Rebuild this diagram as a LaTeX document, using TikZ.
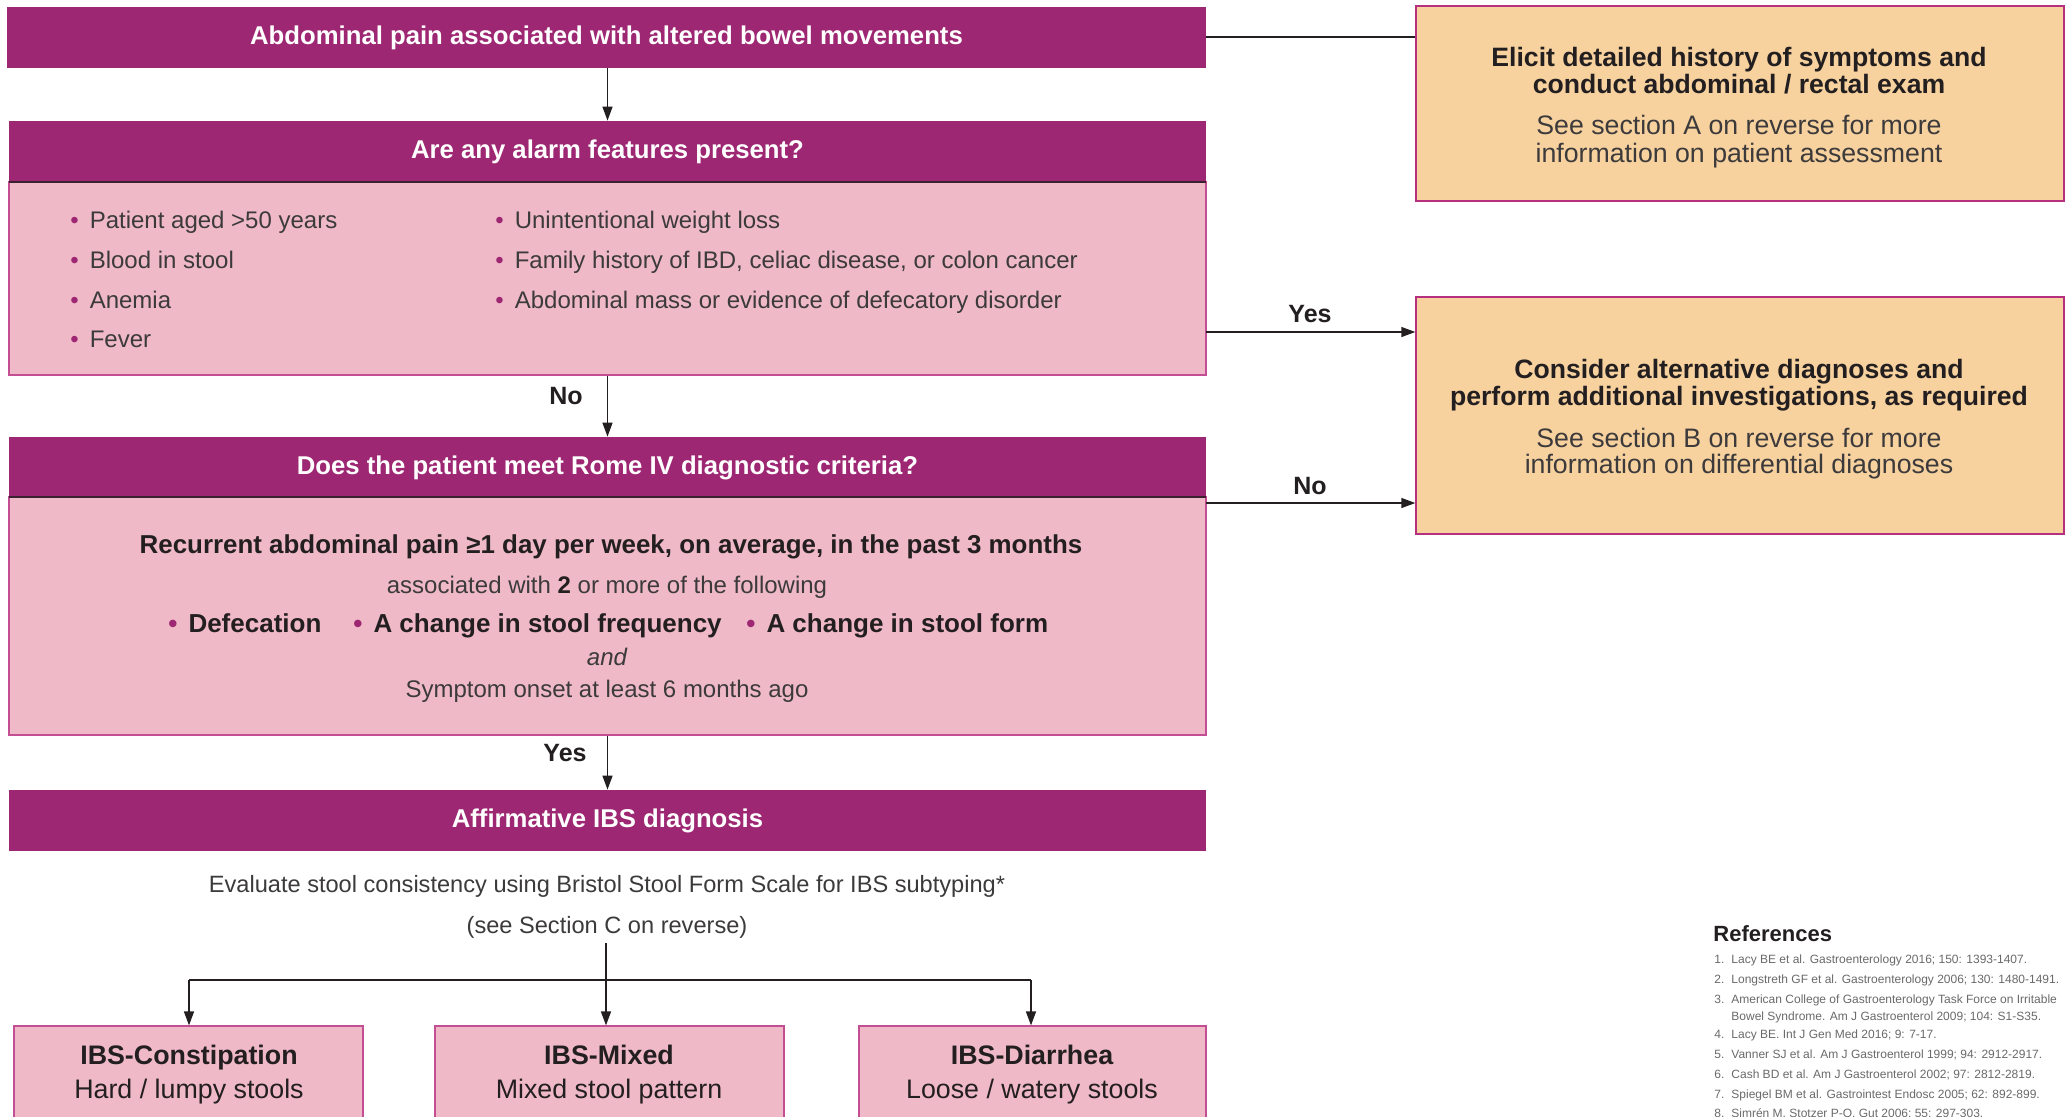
\documentclass[tikz,border=0pt]{standalone}
\usepackage{fontspec}
\setmainfont{Liberation Sans}
\usetikzlibrary{arrows.meta}
\definecolor{hdr}{HTML}{9D2772}
\definecolor{pinkbg}{HTML}{EFB9C8}
\definecolor{pinkbd}{HTML}{C44E93}
\definecolor{orangebg}{HTML}{F7D29F}
\definecolor{orangebd}{HTML}{B5317F}
\definecolor{ink}{HTML}{231F20}
\definecolor{lite}{HTML}{3C3A3B}
\definecolor{refgray}{HTML}{6A6A6A}
\newcommand{\pbul}{\textcolor{hdr}{\textbullet}\hspace{5.5pt}}
\tikzset{
  tb/.style={text height=0.72em, text depth=0pt},
  hdrbox/.style={fill=hdr, draw=none, text=white, font=\fontsize{12.85pt}{15pt}\selectfont\bfseries, inner sep=0pt, tb},
  bodybox/.style={fill=pinkbg, draw=pinkbd, line width=0.6pt, inner sep=0pt},
  orbox/.style={fill=orangebg, draw=orangebd, line width=0.7pt, inner sep=0pt},
  arr/.style={draw=ink, line width=0.7pt, -{Triangle[length=7pt,width=5pt]}},
  plain/.style={draw=ink, line width=0.9pt},
  lbl/.style={font=\fontsize{12.5pt}{15pt}\selectfont\bfseries, text=ink, inner sep=0pt, tb},
  item/.style={font=\fontsize{12pt}{14pt}\selectfont, text=lite, anchor=west, inner sep=0pt, tb},
  ctext/.style={font=\fontsize{12pt}{14pt}\selectfont, text=lite, inner sep=0pt, tb},
  btext/.style={font=\fontsize{12.8pt}{15pt}\selectfont\bfseries, text=ink, inner sep=0pt, tb},
  obtext/.style={font=\fontsize{13.3pt}{15pt}\selectfont\bfseries, text=ink, inner sep=0pt, tb},
  otext/.style={font=\fontsize{13.35pt}{15pt}\selectfont, text=lite, inner sep=0pt, tb},
  ref/.style={font=\fontsize{6pt}{7pt}\selectfont, text=refgray, anchor=west, inner sep=0pt, tb},
}
\begin{document}
\begin{tikzpicture}[x=0.5pt,y=-0.5pt]
\useasboundingbox (0,0) rectangle (2069,1116);
\fill[white] (0,0) rectangle (2069,1116);

% main column
\node[hdrbox, minimum width=599.5pt, minimum height=30.5pt] (title) at (606.5,37) {Abdominal pain associated with altered bowel movements};
\node[bodybox, minimum width=598.5pt, minimum height=96.5pt] (alarmB) at (607.5,278.5) {};
\node[hdrbox, minimum width=598.5pt, minimum height=30.5pt] (alarmH) at (607.5,151.5) {Are any alarm features present?};
\draw[ink!80!hdr, line width=1pt] (alarmH.south west) -- (alarmH.south east);

\node[bodybox, minimum width=598.5pt, minimum height=119pt] (romeB) at (607.5,616) {};
\node[hdrbox, minimum width=598.5pt, minimum height=30pt] (romeH) at (607.5,467) {Does the patient meet Rome IV diagnostic criteria?};
\draw[ink!80!hdr, line width=1pt] (romeH.south west) -- (romeH.south east);

\node[hdrbox, minimum width=598.5pt, minimum height=30.5pt] (affH) at (607.5,820.5) {Affirmative IBS diagnosis};

% alarm items
\node[item] (a1) at (70,221) {\pbul Patient aged >50 years};
\node[item] (a2) at (70,261) {\pbul Blood in stool};
\node[item] (a3) at (70,301) {\pbul Anemia};
\node[item] (a4) at (70,340) {\pbul Fever};
\node[item] (a5) at (495,221) {\pbul Unintentional weight loss};
\node[item] (a6) at (495,261) {\pbul Family history of IBD, celiac disease, or colon cancer};
\node[item] (a7) at (495,301) {\pbul Abdominal mass or evidence of defecatory disorder};

% Rome criteria
\node[btext, font=\fontsize{12.95pt}{15pt}\selectfont\bfseries] (r1) at (611,546) {Recurrent abdominal pain ≥1 day per week, on average, in the past 3 months};
\node[ctext] (r2) at (607,586) {associated with \textbf{\textcolor{ink}{2}} or more of the following};
\node[btext, anchor=west, font=\fontsize{13pt}{15pt}\selectfont\bfseries] (r3) at (168,625) {\pbul Defecation};
\node[btext, anchor=west, font=\fontsize{13pt}{15pt}\selectfont\bfseries] (r4) at (353,625) {\pbul A change in stool frequency};
\node[btext, anchor=west, font=\fontsize{13pt}{15pt}\selectfont\bfseries] (r5) at (746,625) {\pbul A change in stool form};
\node[ctext, font=\fontsize{12pt}{14pt}\selectfont\itshape] (r6) at (607,658) {and};
\node[ctext] (r7) at (607,690) {Symptom onset at least 6 months ago};

% subtyping text
\node[ctext, font=\fontsize{11.8pt}{14pt}\selectfont] (ev1) at (607,885) {Evaluate stool consistency using Bristol Stool Form Scale for IBS subtyping*};
\node[ctext, font=\fontsize{11.8pt}{14pt}\selectfont] (ev2) at (607,926) {(see Section C on reverse)};

% right boxes
\node[orbox, minimum width=324pt, minimum height=97.5pt] (hist) at (1740,103.5) {};
\node[obtext] (h1) at (1739,59) {Elicit detailed history of symptoms and};
\node[obtext] (h2) at (1739,86) {conduct abdominal / rectal exam};
\node[otext] (h3) at (1739,127) {See section A on reverse for more};
\node[otext] (h4) at (1739,155) {information on patient assessment};

\node[orbox, minimum width=324pt, minimum height=118.5pt] (alt) at (1740,415.5) {};
\node[obtext] (d1) at (1739,371) {Consider alternative diagnoses and};
\node[obtext] (d2) at (1739,398) {perform additional investigations, as required};
\node[otext] (d3) at (1739,440) {See section B on reverse for more};
\node[otext] (d4) at (1739,466) {information on differential diagnoses};

% bottom boxes
\node[bodybox, minimum width=174.5pt, minimum height=62pt] (ibsC) at (188.5,1088) {};
\node[bodybox, minimum width=174.5pt, minimum height=62pt] (ibsM) at (609.5,1088) {};
\node[bodybox, minimum width=173.5pt, minimum height=62pt] (ibsD) at (1032.5,1088) {};
\node[btext, font=\fontsize{13.4pt}{16pt}\selectfont\bfseries] (c1) at (189,1057) {IBS-Constipation};
\node[ctext, font=\fontsize{13.4pt}{16pt}\selectfont, text=ink] (c2) at (189,1091) {Hard / lumpy stools};
\node[btext, font=\fontsize{13.4pt}{16pt}\selectfont\bfseries] (m1) at (609,1057) {IBS-Mixed};
\node[ctext, font=\fontsize{13.4pt}{16pt}\selectfont, text=ink] (m2) at (609,1091) {Mixed stool pattern};
\node[btext, font=\fontsize{13.4pt}{16pt}\selectfont\bfseries] (dd1) at (1032,1057) {IBS-Diarrhea};
\node[ctext, font=\fontsize{13.4pt}{16pt}\selectfont, text=ink] (dd2) at (1032,1091) {Loose / watery stools};

% connectors
\draw[arr] (title.south -| alarmH.north) -- (alarmH.north);
\draw[arr] (alarmB.south) -- (romeH.north);
\draw[arr] (romeB.south) -- (affH.north);
\draw[plain] (title.east) -- (title.east -| hist.west);
\coordinate (yesA) at (1206,332);
\coordinate (noA) at (1206,503);
\draw[arr] (yesA) -- (yesA -| alt.west);
\draw[arr] (noA) -- (noA -| alt.west);
\node[lbl] (yes1) at (1310,315) {Yes};
\node[lbl] (no1) at (1310,487) {No};
\node[lbl] (no2) at (566,397) {No};
\node[lbl] (yes2) at (565,754) {Yes};

\coordinate (brTop) at (606,943);
\coordinate (brMid) at (606,980);
\coordinate (brL) at (189,980);
\coordinate (brR) at (1031,980);
\draw[draw=ink, line width=0.7pt] (brTop) -- (brMid);
\draw[plain] (brL) -- (brR);
\draw[arr] (brL) -- (brL |- ibsC.north);
\draw[arr] (brMid) -- (brMid |- ibsM.north);
\draw[arr] (brR) -- (brR |- ibsD.north);

% references
\node[font=\fontsize{11pt}{13pt}\selectfont\bfseries, text=ink, anchor=west, inner sep=0pt, tb] (refH) at (1713,934) {References};
\node[ref] (n1) at (1714,956) {1.}; \node[ref] (t1) at (1731,956) {Lacy BE et al. Gastroenterology 2016; 150: 1393-1407.};
\node[ref] (n2) at (1714,976) {2.}; \node[ref] (t2) at (1731,976) {Longstreth GF et al. Gastroenterology 2006; 130: 1480-1491.};
\node[ref] (n3) at (1714,996) {3.}; \node[ref] (t3) at (1731,996) {American College of Gastroenterology Task Force on Irritable};
\node[ref] (t3b) at (1731,1013) {Bowel Syndrome. Am J Gastroenterol 2009; 104: S1-S35.};
\node[ref] (n4) at (1714,1031) {4.}; \node[ref] (t4) at (1731,1031) {Lacy BE. Int J Gen Med 2016; 9: 7-17.};
\node[ref] (n5) at (1714,1051) {5.}; \node[ref] (t5) at (1731,1051) {Vanner SJ et al. Am J Gastroenterol 1999; 94: 2912-2917.};
\node[ref] (n6) at (1714,1071) {6.}; \node[ref] (t6) at (1731,1071) {Cash BD et al. Am J Gastroenterol 2002; 97: 2812-2819.};
\node[ref] (n7) at (1714,1091) {7.}; \node[ref] (t7) at (1731,1091) {Spiegel BM et al. Gastrointest Endosc 2005; 62: 892-899.};
\node[ref] (n8) at (1714,1110) {8.}; \node[ref] (t8) at (1731,1110) {Simrén M, Stotzer P-O. Gut 2006; 55: 297-303.};
\end{tikzpicture}
\end{document}
